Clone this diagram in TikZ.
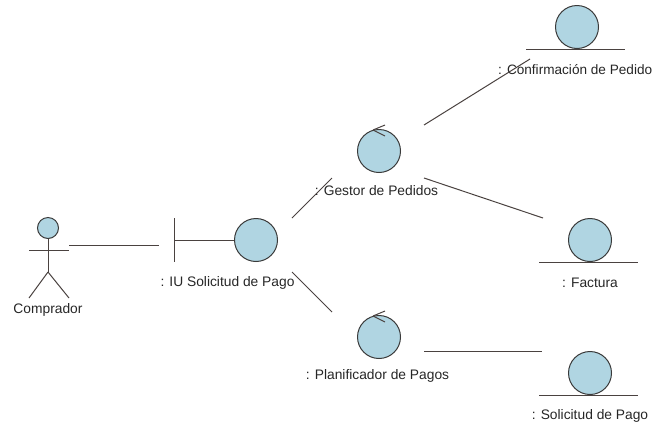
\documentclass[tikz,border=0pt]{standalone}
\usepackage{fontspec}
\setmainfont{Liberation Sans}
\definecolor{objfill}{HTML}{B0D5E2}
\definecolor{objline}{HTML}{3A3A3A}
\definecolor{linkline}{HTML}{4A4240}
\tikzset{
	obj/.style={shape=circle,draw=objline,fill=objfill,line width=1pt,minimum size=43pt,inner sep=0pt},
	head/.style={shape=circle,draw=objline,fill=objfill,line width=1pt,minimum size=21pt,inner sep=0pt},
	lbl/.style={inner sep=0pt,text=black!85,font=\fontsize{13.8}{16}\selectfont},
	stroke/.style={draw=linkline,line width=1pt},
}
\begin{document}
\begin{tikzpicture}[x=1pt,y=-1pt]
	\useasboundingbox (0,0) rectangle (652,424);
	\node[head] (comprador) at (48,228) {};
	\coordinate (hip) at (48,272);
	\node[lbl] (comprador label) at (48,310) {Comprador};
	\node[obj] (iu) at (256,240) {};
	\node[lbl] (iu label) at (227.5,283) {: IU Solicitud de Pago};
	\node[obj] (gestor) at (379,151) {};
	\node[lbl] (gestor label) at (376.5,191) {: Gestor de Pedidos};
	\node[obj] (plan) at (379,337) {};
	\node[lbl] (plan label) at (377.5,376) {: Planificador de Pagos};
	\node[obj] (confirm) at (577,27) {};
	\node[lbl,anchor=west,font=\fontsize{13.6}{16}\selectfont] (confirm label) at (498,70) {: Confirmación de Pedido};
	\node[obj] (factura) at (590,240) {};
	\node[lbl] (factura label) at (590,283) {: Factura};
	\node[obj] (solicitud) at (590,373) {};
	\node[lbl] (solicitud label) at (590,416) {: Solicitud de Pago};
	\path [stroke] (comprador.south) edge (hip);
	\path [stroke] ([shift={(-19,22)}]comprador.center) edge ([shift={(21,22)}]comprador.center);
	\path [stroke] (hip) edge ([shift={(-19,26)}]hip);
	\path [stroke] (hip) edge ([shift={(21,26)}]hip);
	\path [stroke] (iu.west) edge ([shift={(-82,0)}]iu.center);
	\path [stroke] ([shift={(-82,-22)}]iu.center) edge ([shift={(-82,22)}]iu.center);
	\path [stroke] ([shift={(-51,22)}]confirm.center) edge ([shift={(48,22)}]confirm.center);
	\path [stroke] ([shift={(-51,22)}]factura.center) edge ([shift={(48,22)}]factura.center);
	\path [stroke] ([shift={(-51,22)}]solicitud.center) edge ([shift={(48,22)}]solicitud.center);
	\path [stroke] ([shift={(-6,-21)}]gestor.center) edge ([shift={(6,-26)}]gestor.center);
	\path [stroke] ([shift={(-6,-21)}]gestor.center) edge ([shift={(6,-15)}]gestor.center);
	\path [stroke] ([shift={(-6,-21)}]plan.center) edge ([shift={(6,-26)}]plan.center);
	\path [stroke] ([shift={(-6,-21)}]plan.center) edge ([shift={(6,-15)}]plan.center);
	\path [stroke] ([shift={(21,17)}]comprador.center) edge ([shift={(-97,5)}]iu.center);
	\path [stroke] ([shift={(36,-22)}]iu.center) edge ([shift={(-47,27)}]gestor.center);
	\path [stroke] ([shift={(36,32)}]iu.center) edge ([shift={(-47,-25)}]plan.center);
	\path [stroke] ([shift={(45,-26)}]gestor.center) edge ([shift={(-47,32)}]confirm.center);
	\path [stroke] ([shift={(45,27)}]gestor.center) edge ([shift={(-47,-22)}]factura.center);
	\path [stroke] ([shift={(45,14)}]plan.center) edge ([shift={(-48,-22)}]solicitud.center);
\end{tikzpicture}
\end{document}
